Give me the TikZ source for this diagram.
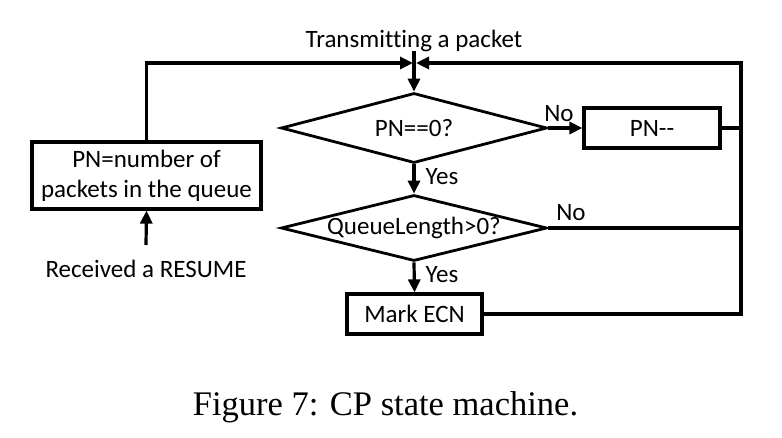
\documentclass[tikz,border=0pt]{standalone}
\usepackage{fontspec}
\setmainfont{Carlito}[Ligatures={NoCommon}]
\newfontfamily\capfont{Liberation Serif}
\usetikzlibrary{shapes.geometric,arrows.meta}
\begin{document}
\begin{tikzpicture}[x=1pt,y=-1pt,
  every node/.style={font=\fontsize{25}{30}\selectfont},
  box/.style={draw,line width=3.2pt,rectangle,inner sep=0pt},
  dec/.style={draw,line width=2.8pt,diamond,aspect=4,inner sep=0pt},
  wire/.style={line width=3.2pt,line join=miter},
  arr/.style={wire,-{Triangle[length=13pt,width=12pt]}},
  lbl/.style={anchor=base,inner sep=0pt}]
\useasboundingbox (0,0) rectangle (782,438);
\fill[white] (0,0) rectangle (782,438);
% nodes
\node[dec,minimum width=266pt,minimum height=70pt] (d1) at (414,128) {PN==0?};
\node[dec,minimum width=266pt,minimum height=66pt] (d2) at (414,228) {QueueLength>0?};
\node[box,minimum width=136pt,minimum height=40pt] (pn) at (652,128) {PN{-}{-}};
\node[box,minimum width=135pt,minimum height=40pt] (ecn) at (414.5,314) {Mark ECN};
\node[box,minimum width=229pt,minimum height=67pt,align=center] (init) at (146.5,175.5) {PN=number of\\packets in the queue};
\node[lbl] (tx) at (414,48) {Transmitting a packet};
\node[lbl] (rx) at (146,278) {Received a RESUME};
\node[lbl] (yes1) at (442,185) {Yes};
\node[lbl] (yes2) at (442,283) {Yes};
\node[lbl] (no1) at (559,122) {No};
\node[lbl] (no2) at (571,221) {No};
\node[lbl,font=\capfont\fontsize{34.5}{40}\selectfont] (cap) at (385.5,415) {Figure 7: CP state machine.};
% coordinates
\coordinate (tin) at (414,51);
\coordinate (tl) at (146,63);
\coordinate (tr) at (741,63);
\coordinate (mL) at (413,63);
\coordinate (mR) at (416,63);
\coordinate (rxs) at (146,245);
% connectors
\draw[arr] (tin) -- (d1.north);
\draw[arr] (init.north) |- (mL);
\draw[arr] (ecn.east) -| (tr) -- (mR);
\draw[wire] (pn.east) -- (pn.east -| tr);
\draw[wire] (d2.east) -- (d2.east -| tr);
\draw[arr] (d1.east) -- (pn.west);
\draw[arr] (d1.south) -- (d2.north);
\draw[arr] (d2.south) -- (ecn.north);
\draw[arr] (rxs) -- (init.south);
\end{tikzpicture}
\end{document}
